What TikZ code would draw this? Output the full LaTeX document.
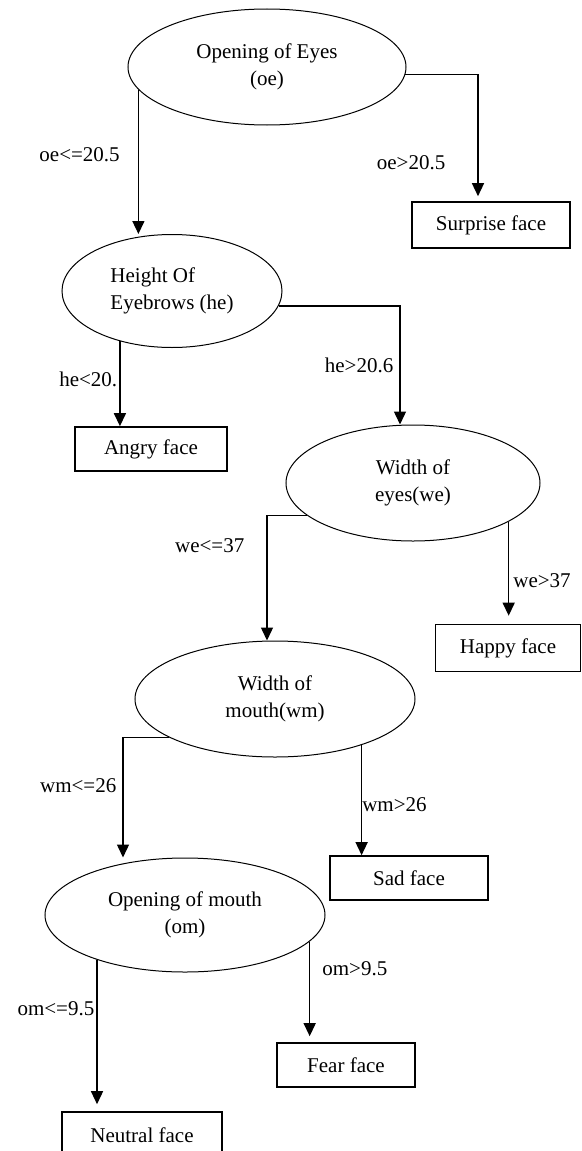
\documentclass[tikz,border=0pt]{standalone}
\usepackage{fontspec}
\setmainfont{Liberation Serif}
\usetikzlibrary{arrows.meta, positioning, shapes.geometric}

\begin{document}
\begin{tikzpicture}[
      on grid, >={Triangle[width=6pt,length=6.5pt]},
      font=\fontsize{10.5pt}{13.5pt}\selectfont,
      feature/.style={ellipse, draw, line width=0.5pt, inner sep=0pt, align=center},
      leaf/.style={rectangle, draw, line width=0.8pt, inner sep=0pt},
      link/.style={->, line width=0.7pt},
      cond/.style={inner sep=1pt}
      ]
      \useasboundingbox (-133.5pt,33.5pt) rectangle (157.5pt,-542pt);

      \node[feature, minimum width=139pt, minimum height=58pt] (oe)                                       {Opening of Eyes\\(oe)};
      \node[leaf, minimum width=79pt, minimum height=23pt]     (surprise) [below right=79pt and 112pt of oe]  {Surprise face};
      \node[feature, align=left, minimum width=110pt, minimum height=56.5pt] (he) [below left=112pt and 47.5pt of oe] {Height Of\\Eyebrows (he)};
      \node[leaf, minimum width=76pt, minimum height=22pt]     (angry)    [below left=79pt and 10.5pt of he]   {Angry face};
      \node[feature, minimum width=127pt, minimum height=58pt] (we)       [below right=96pt and 120.5pt of he] {Width of\\eyes(we)};
      \node[leaf, minimum width=72.5pt, minimum height=23.5pt] (happy)    [below right=82.5pt and 47.5pt of we] {Happy face};
      \node[feature, minimum width=140pt, minimum height=58pt] (wm)       [below left=108pt and 69pt of we]    {Width of\\mouth(wm)};
      \node[leaf, minimum width=79pt, minimum height=22pt]     (sad)      [below right=89.5pt and 67pt of wm]  {Sad face};
      \node[feature, minimum width=140pt, minimum height=57pt] (om)       [below left=108pt and 45pt of wm]    {Opening of mouth\\(om)};
      \node[leaf, minimum width=69pt, minimum height=22pt]     (fear)     [below right=75pt and 80.5pt of om]  {Fear face};
      \node[leaf, minimum width=80pt, minimum height=23pt]     (neutral)  [below left=110pt and 21.5pt of om]  {Neutral face};

      \draw[link] (oe.190) -- node[cond, left=8pt, pos=0.45] {oe<=20.5} (oe.190 |- he.north);
      \draw[link, shorten >=2.5pt] (oe.-3) -| node[cond, left=15pt, pos=0.85] {oe>20.5} ([xshift=-6.5pt]surprise.north);
      \draw[link] (he.224) -- node[cond, left, pos=0.45] {he<20.} (he.224 |- angry.north);
      \draw[link] (he.-8) -| node[cond, left=2pt, pos=0.75] {he>20.6} ([xshift=-6.5pt]we.north);
      \draw[link] (we.197) -| node[cond, left=10pt, pos=0.62] {we<=37} ([xshift=-4pt]wm.north);
      \draw[link, shorten >=4pt] (we.-22) -- node[cond, right=1pt, pos=0.58] {we>37} (we.-22 |- happy.north);
      \draw[link] (wm.200) -| node[cond, left=2pt, pos=0.7] {wm<=26} ([xshift=-31pt]om.north);
      \draw[link] (wm.-28) -- node[inner sep=0pt, right, pos=0.54] {wm>26} (wm.-28 |- sad.north);
      \draw[link, shorten >=3.5pt] (om.207) -- node[cond, left, pos=0.32] {om<=9.5} (om.207 |- neutral.north);
      \draw[link, shorten >=3pt] (om.-12) -- node[cond, right=5pt, pos=0.27] {om>9.5} (om.-12 |- fear.north);
    \end{tikzpicture}
\end{document}
